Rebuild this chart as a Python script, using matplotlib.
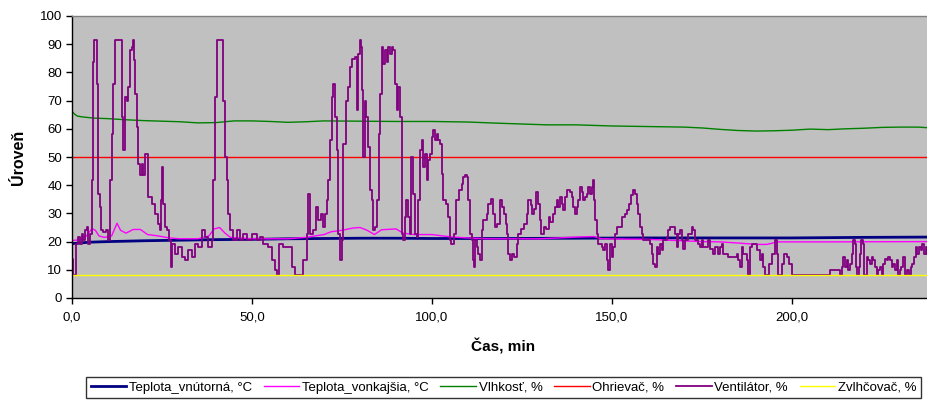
import matplotlib
matplotlib.use("Agg")
import matplotlib.pyplot as plt
from matplotlib.ticker import FuncFormatter, MultipleLocator

plt.rcParams['font.family'] = ['Liberation Sans', 'DejaVu Sans']

# ---------------- data (time in min, level) ----------------
t_vent = [0, 0.4, 1.1, 1.8, 2.2, 2.7, 3.1, 3.6, 4.1, 4.5, 5.0, 5.5, 5.7, 5.9, 6.2, 6.9, 7.1, 7.8, 8.0, 8.7, 9.4,
          10.1, 10.6, 11.0, 11.5, 11.9, 13.8, 14.3, 14.7, 15.2, 15.6, 16.1, 16.6, 17.0, 17.3, 17.6, 18.0, 18.4, 18.9,
          19.4, 19.8, 20.3, 21.2, 22.1, 23.1, 24.0, 24.4, 24.7, 25.0, 25.4, 25.8, 26.5, 26.9, 27.4, 27.9, 28.6, 29.5,
          30.5, 31.4, 32.3, 33.2, 34.2, 35.1, 36.0, 36.9, 37.9, 38.8, 39.3, 39.7, 40.2, 42.0, 42.5, 43.0, 43.4, 43.9,
          44.8, 45.7, 46.7, 47.6, 48.5, 49.9, 51.3, 52.2, 53.1, 54.5, 55.5, 56.4, 57.0, 57.5, 58.7, 61.0, 61.9,
          64.3, 65.2, 65.6, 66.1, 67.0, 67.7, 68.4, 69.1, 69.8, 70.4, 70.7, 71.2, 71.7, 72.1, 72.6, 73.0, 73.5,
          74.0, 74.4, 74.9, 75.4, 76.0, 76.8, 77.2, 77.9, 78.6, 79.1, 79.5, 80.0, 80.4, 80.6, 80.9, 81.4, 81.8,
          82.3, 82.8, 83.2, 83.7, 84.3, 84.8, 85.2, 85.5, 86.0, 86.5, 86.9, 87.4, 87.9, 88.3, 88.8, 89.3, 89.7,
          90.2, 90.6, 91.1, 91.6, 92.0, 92.5, 92.9, 93.4, 93.9, 94.3, 94.8, 95.3, 95.7, 96.2, 96.6, 97.1, 97.6,
          98.0, 98.5, 98.9, 99.4, 99.9, 100.3, 100.8, 101.3, 101.7, 102.2, 102.7, 103.1, 103.8, 104.5, 104.9,
          105.4, 106.1, 106.8, 107.5, 108.2, 108.7, 109.3, 109.8, 110.1, 110.6, 111.0, 111.5, 111.6, 111.9,
          112.4, 112.9, 113.3, 113.8, 114.2, 115.2, 115.6, 116.3, 117.0, 117.5, 118.1, 118.9, 119.5, 120.0,
          120.5, 120.7, 121.2, 121.7, 122.3, 122.8, 123.5, 124.0, 124.6, 125.6, 126.3, 126.8, 127.4, 127.9,
          128.4, 129.0, 129.5, 130.0, 130.4, 131.1, 131.8, 132.5, 132.8, 133.7, 134.2, 134.6, 135.1, 135.6,
          136.0, 136.5, 136.9, 137.4, 138.3, 138.8, 139.3, 139.7, 140.2, 140.6, 141.1, 141.6, 142.0, 142.5,
          143.0, 143.4, 143.9, 144.4, 144.6, 145.0, 145.3, 145.7, 146.2, 147.1, 147.6, 148.1, 148.5, 149.0,
          149.4, 149.9, 150.4, 150.8, 151.3, 152.7, 153.6, 154.3, 154.7, 155.3, 155.9, 156.4, 156.9, 157.3,
          157.8, 158.2, 158.7, 160.6, 161.0, 161.5, 161.9, 162.4, 162.9, 163.3, 163.8, 164.3, 165.2, 165.6,
          166.1, 167.5, 168.0, 168.4, 168.9, 169.4, 169.8, 170.3, 171.2, 172.1, 172.6, 173.1, 174.0, 174.4,
          174.9, 175.4, 176.8, 177.2, 178.1, 178.6, 179.5, 180.0, 180.5, 180.9, 182.3, 184.6, 185.1, 185.6,
          186.0, 186.5, 187.4, 187.9, 188.3, 188.8, 190.2, 191.1, 191.6, 192.0, 192.5, 193.6, 194.4, 195.3,
          195.7, 196.2, 197.3, 197.8, 198.5, 199.2, 199.9, 209.0, 210.5, 211.9, 213.3, 213.8, 214.3, 214.7,
          215.2, 215.6, 216.1, 216.6, 217.0, 217.4, 217.7, 218.0, 218.5, 218.9, 219.3, 219.8, 220.1, 220.7,
          221.2, 221.7, 222.1, 222.6, 223.0, 223.5, 224.0, 224.4, 224.9, 225.4, 225.8, 226.3, 226.7, 227.2,
          227.7, 228.1, 228.6, 229.1, 229.5, 230.0, 230.4, 230.9, 231.4, 232.0, 232.5, 233.0, 233.4, 233.9,
          234.4, 234.8, 235.3, 235.7, 236.2, 236.7, 237.1, 237.5]
v_vent = [13.9, 8.0, 19.3, 21.6, 19.3, 22.8, 20.4, 24.0, 25.2, 19.3, 22.8, 41.7, 70.0, 83.7, 91.4, 76.0, 37.0, 32.3, 24.0, 23.4, 24.0,
          20.4, 41.7, 58.3, 76.0, 91.4, 64.2, 52.4, 71.3, 70.0, 74.8, 87.8, 89.0, 91.4, 84.3, 72.5, 60.6, 47.6, 43.5,
          47.6, 43.5, 51.2, 35.8, 33.5, 29.9, 26.4, 24.0, 34.6, 46.5, 33.5, 25.2, 24.0, 20.4, 11.0, 19.3, 15.7, 18.1,
          14.5, 13.4, 16.9, 14.5, 19.3, 18.1, 24.0, 21.6, 18.1, 20.4, 41.7, 71.3, 91.4, 70.0, 50.0, 41.7, 29.9, 24.0,
          20.4, 24.0, 20.4, 22.8, 20.4, 22.8, 20.4, 21.6, 19.3, 18.1, 13.4, 9.8, 8.0, 19.3, 18.1, 11.0, 8.0,
          13.4, 22.8, 37.0, 22.8, 24.0, 32.3, 27.5, 29.9, 25.2, 29.9, 34.6, 41.7, 55.9, 71.3, 76.0, 64.2, 52.4,
          22.8, 13.4, 20.4, 54.7, 70.0, 74.8, 81.9, 84.9, 85.5, 66.5, 86.6, 91.4, 89.0, 73.6, 50.0, 70.0, 64.2,
          53.5, 38.2, 34.6, 24.0, 25.2, 34.6, 58.3, 72.5, 89.0, 83.1, 87.8, 83.7, 89.0, 86.6, 89.0, 87.8, 76.0,
          66.5, 74.8, 64.2, 22.8, 20.4, 28.7, 34.6, 28.7, 22.8, 50.0, 37.0, 22.8, 21.6, 34.6, 52.4, 55.9, 46.5,
          51.2, 41.7, 48.8, 51.2, 57.1, 59.5, 55.9, 58.3, 55.9, 54.7, 44.1, 34.6, 33.5, 28.7, 20.4,
          19.3, 22.8, 34.6, 38.2, 40.5, 42.9, 43.5, 42.9, 34.6, 22.8, 20.4, 13.4, 11.0, 20.4,
          18.1, 15.7, 13.4, 24.0, 27.5, 29.9, 33.5, 35.2, 29.9, 25.2, 26.4, 34.6, 32.3, 29.9,
          26.4, 22.8, 15.7, 13.4, 15.7, 14.5, 19.3, 22.8, 24.6, 26.4, 29.9, 34.6, 33.1, 29.9,
          31.7, 37.6, 33.5, 27.5, 22.8, 25.2, 24.6, 28.7, 27.0, 29.9, 32.3, 34.6, 32.3, 35.8,
          33.5, 31.1, 35.8, 38.2, 37.6, 35.8, 32.3, 29.9, 32.3, 34.6, 39.4, 37.6, 34.6, 35.8,
          37.0, 39.4, 37.0, 39.4, 41.7, 34.6, 27.5, 22.8, 19.3, 18.1, 16.9, 19.3, 13.4, 9.8,
          19.3, 14.5, 18.1, 22.8, 25.2, 28.7, 29.9, 31.1, 33.5, 36.4, 38.2, 37.0, 33.5, 29.9,
          25.2, 22.8, 20.4, 19.3, 15.7, 12.2, 11.0, 18.1, 15.7, 19.3, 16.9, 20.4, 21.6, 24.0,
          25.2, 22.8, 18.1, 22.8, 24.0, 20.4, 17.5, 20.4, 22.8, 25.2, 24.0, 20.4, 19.3, 18.1,
          20.4, 18.1, 20.4, 17.5, 15.7, 18.1, 15.7, 18.1, 19.3, 15.7, 14.5, 15.7, 13.4, 11.0,
          18.1, 15.7, 13.4, 8.0, 18.1, 19.3, 16.9, 13.4, 15.7, 11.0, 8.0, 12.2, 15.7, 20.4,
          15.7, 8.0, 12.2, 15.7, 14.5, 12.2, 8.0, 8.0, 9.8, 9.8, 8.0, 11.0, 14.5, 11.0,
          13.4, 9.8, 12.2, 15.7, 20.4, 19.3, 11.0, 8.0, 11.0, 15.7, 20.4, 19.3, 8.0, 14.5,
          13.4, 12.2, 14.5, 13.4, 11.0, 8.0, 9.8, 11.0, 8.0, 12.2, 13.9, 13.4, 14.5, 13.4,
          11.0, 12.2, 9.8, 13.4, 8.0, 9.8, 11.0, 14.5, 8.0, 9.8, 8.0, 11.0, 12.2, 14.5,
          18.1, 15.7, 18.1, 16.9, 19.3, 15.7, 18.1, 15.7]

t_in = [0, 2, 5, 10, 20, 30, 40, 50, 60, 70, 80, 90, 100, 120, 140, 160, 180, 200, 220, 237.5]
v_in = [19.3, 19.5, 19.8, 20.0, 20.3, 20.5, 20.7, 20.8, 21.0, 21.1, 21.2, 21.2, 21.1, 21.1, 21.2, 21.3, 21.3, 21.3, 21.5, 21.6]

t_out = [0, 2, 4, 5.5, 6.5, 7.5, 9, 11, 12.5, 13.5, 15, 17, 19, 21, 24, 27, 30, 35, 38, 39.5, 41, 42.5, 44, 50, 60,
         65, 70, 72, 75, 78, 80, 82, 84, 86, 90, 92, 95, 100, 103, 106, 110, 115, 130, 140, 145, 147, 160, 175, 180,
         185, 190, 193, 196, 210, 237.5]
v_out = [20.4, 20.6, 22.0, 24.6, 24.0, 22.0, 21.5, 22.0, 26.5, 24.0, 23.0, 24.3, 24.3, 22.5, 22.0, 21.3, 21.0, 21.0, 22.0,
         24.5, 25.0, 23.0, 21.5, 21.0, 21.0, 21.5, 22.5, 23.5, 24.0, 24.8, 25.0, 24.0, 22.5, 24.2, 24.5, 23.0, 22.5, 22.5,
         22.0, 21.6, 21.3, 21.0, 21.0, 21.6, 21.8, 21.0, 20.8, 20.0, 19.9, 19.5, 19.0, 19.0, 19.9, 19.9, 20.0]

t_hum = [0, 0.7, 1.5, 3, 6, 10, 15, 20, 25, 30, 35, 40, 45, 50, 55, 60, 65, 70, 80, 90, 100, 110, 118, 125, 132, 140,
         150, 160, 170, 175, 180, 185, 190, 195, 200, 205, 210, 215, 220, 225, 230, 235, 237.5]
v_hum = [66.2, 65.2, 64.5, 64.2, 63.8, 63.6, 63.2, 62.9, 62.7, 62.5, 62.1, 62.2, 62.8, 62.8, 62.6, 62.3, 62.5, 62.8, 62.7,
         62.6, 62.6, 62.4, 62.0, 61.7, 61.4, 61.4, 61.0, 60.8, 60.6, 60.3, 59.8, 59.4, 59.2, 59.3, 59.5, 59.9, 59.7, 60.0,
         60.2, 60.5, 60.6, 60.6, 60.4]

t_const = [0, 240]
v_heat = [50, 50]
v_humid = [8, 8]

labels = ['Teplota_vnútorná, °C', 'Teplota_vonkajšia, °C', 'Vlhkosť, %', 'Ohrievač, %', 'Ventilátor, %', 'Zvlhčovač, %']
colors = ['#000080', '#FF00FF', '#008000', '#FF0000', '#800080', '#FFFF00']

# ---------------- figure ----------------
fig = plt.figure(figsize=(9.27, 4.03), dpi=100)
ax = fig.add_axes([72/927, 1 - 298/403, 1 - 72/927 + 0.01, (298 - 16)/403])
ax.set_facecolor('#C0C0C0')

ax.plot(t_in, v_in, color=colors[0], lw=2.0, label=labels[0])
ax.plot(t_out, v_out, color=colors[1], lw=1.0, label=labels[1])
ax.plot(t_hum, v_hum, color=colors[2], lw=1.0, label=labels[2])
ax.plot(t_const, v_heat, color=colors[3], lw=1.0, label=labels[3])
ax.plot(t_vent, v_vent, color=colors[4], lw=1.3, drawstyle='steps-post', label=labels[4])
ax.plot(t_const, v_humid, color=colors[5], lw=1.0, label=labels[5])

ax.set_xlim(0, 237.5 * (1 + 0.01 * 927 / 855))
ax.set_ylim(0, 100)
ax.xaxis.set_major_locator(MultipleLocator(50))
ax.yaxis.set_major_locator(MultipleLocator(10))
ax.xaxis.set_major_formatter(FuncFormatter(lambda x, p: f"{x:.1f}".replace('.', ',')))
ax.yaxis.set_major_formatter(FuncFormatter(lambda y, p: f"{int(round(y))}"))

for s in ['left', 'bottom']:
    ax.spines[s].set_color('black')
    ax.spines[s].set_linewidth(1.0)
for s in ['top', 'right']:
    ax.spines[s].set_color('#808080')
    ax.spines[s].set_linewidth(1.0)

ax.tick_params(direction='out', length=4, width=1, labelsize=9.5, colors='black', pad=3)
ax.tick_params(axis='x', pad=6)

fig.text(503/927, 1 - 346/403, 'Čas, min', ha='center', va='center', fontsize=11, fontweight='bold')
fig.text(19/927, 1 - 157/403, 'Úroveň', ha='center', va='center', rotation=90, fontsize=11.5, fontweight='bold')

leg = fig.legend(loc='upper left', bbox_to_anchor=(86/927, 1 - 402/403, 835/927, 25/403),
                 mode='expand', ncol=6, fontsize=9.5, frameon=True, fancybox=False,
                 edgecolor='black', handlelength=2.7, handletextpad=0.2, columnspacing=0.5,
                 borderaxespad=0, borderpad=0.35)
leg.get_frame().set_linewidth(1.0)
leg.get_frame().set_facecolor('white')

fig.savefig('out.png', dpi=100, facecolor='white')
